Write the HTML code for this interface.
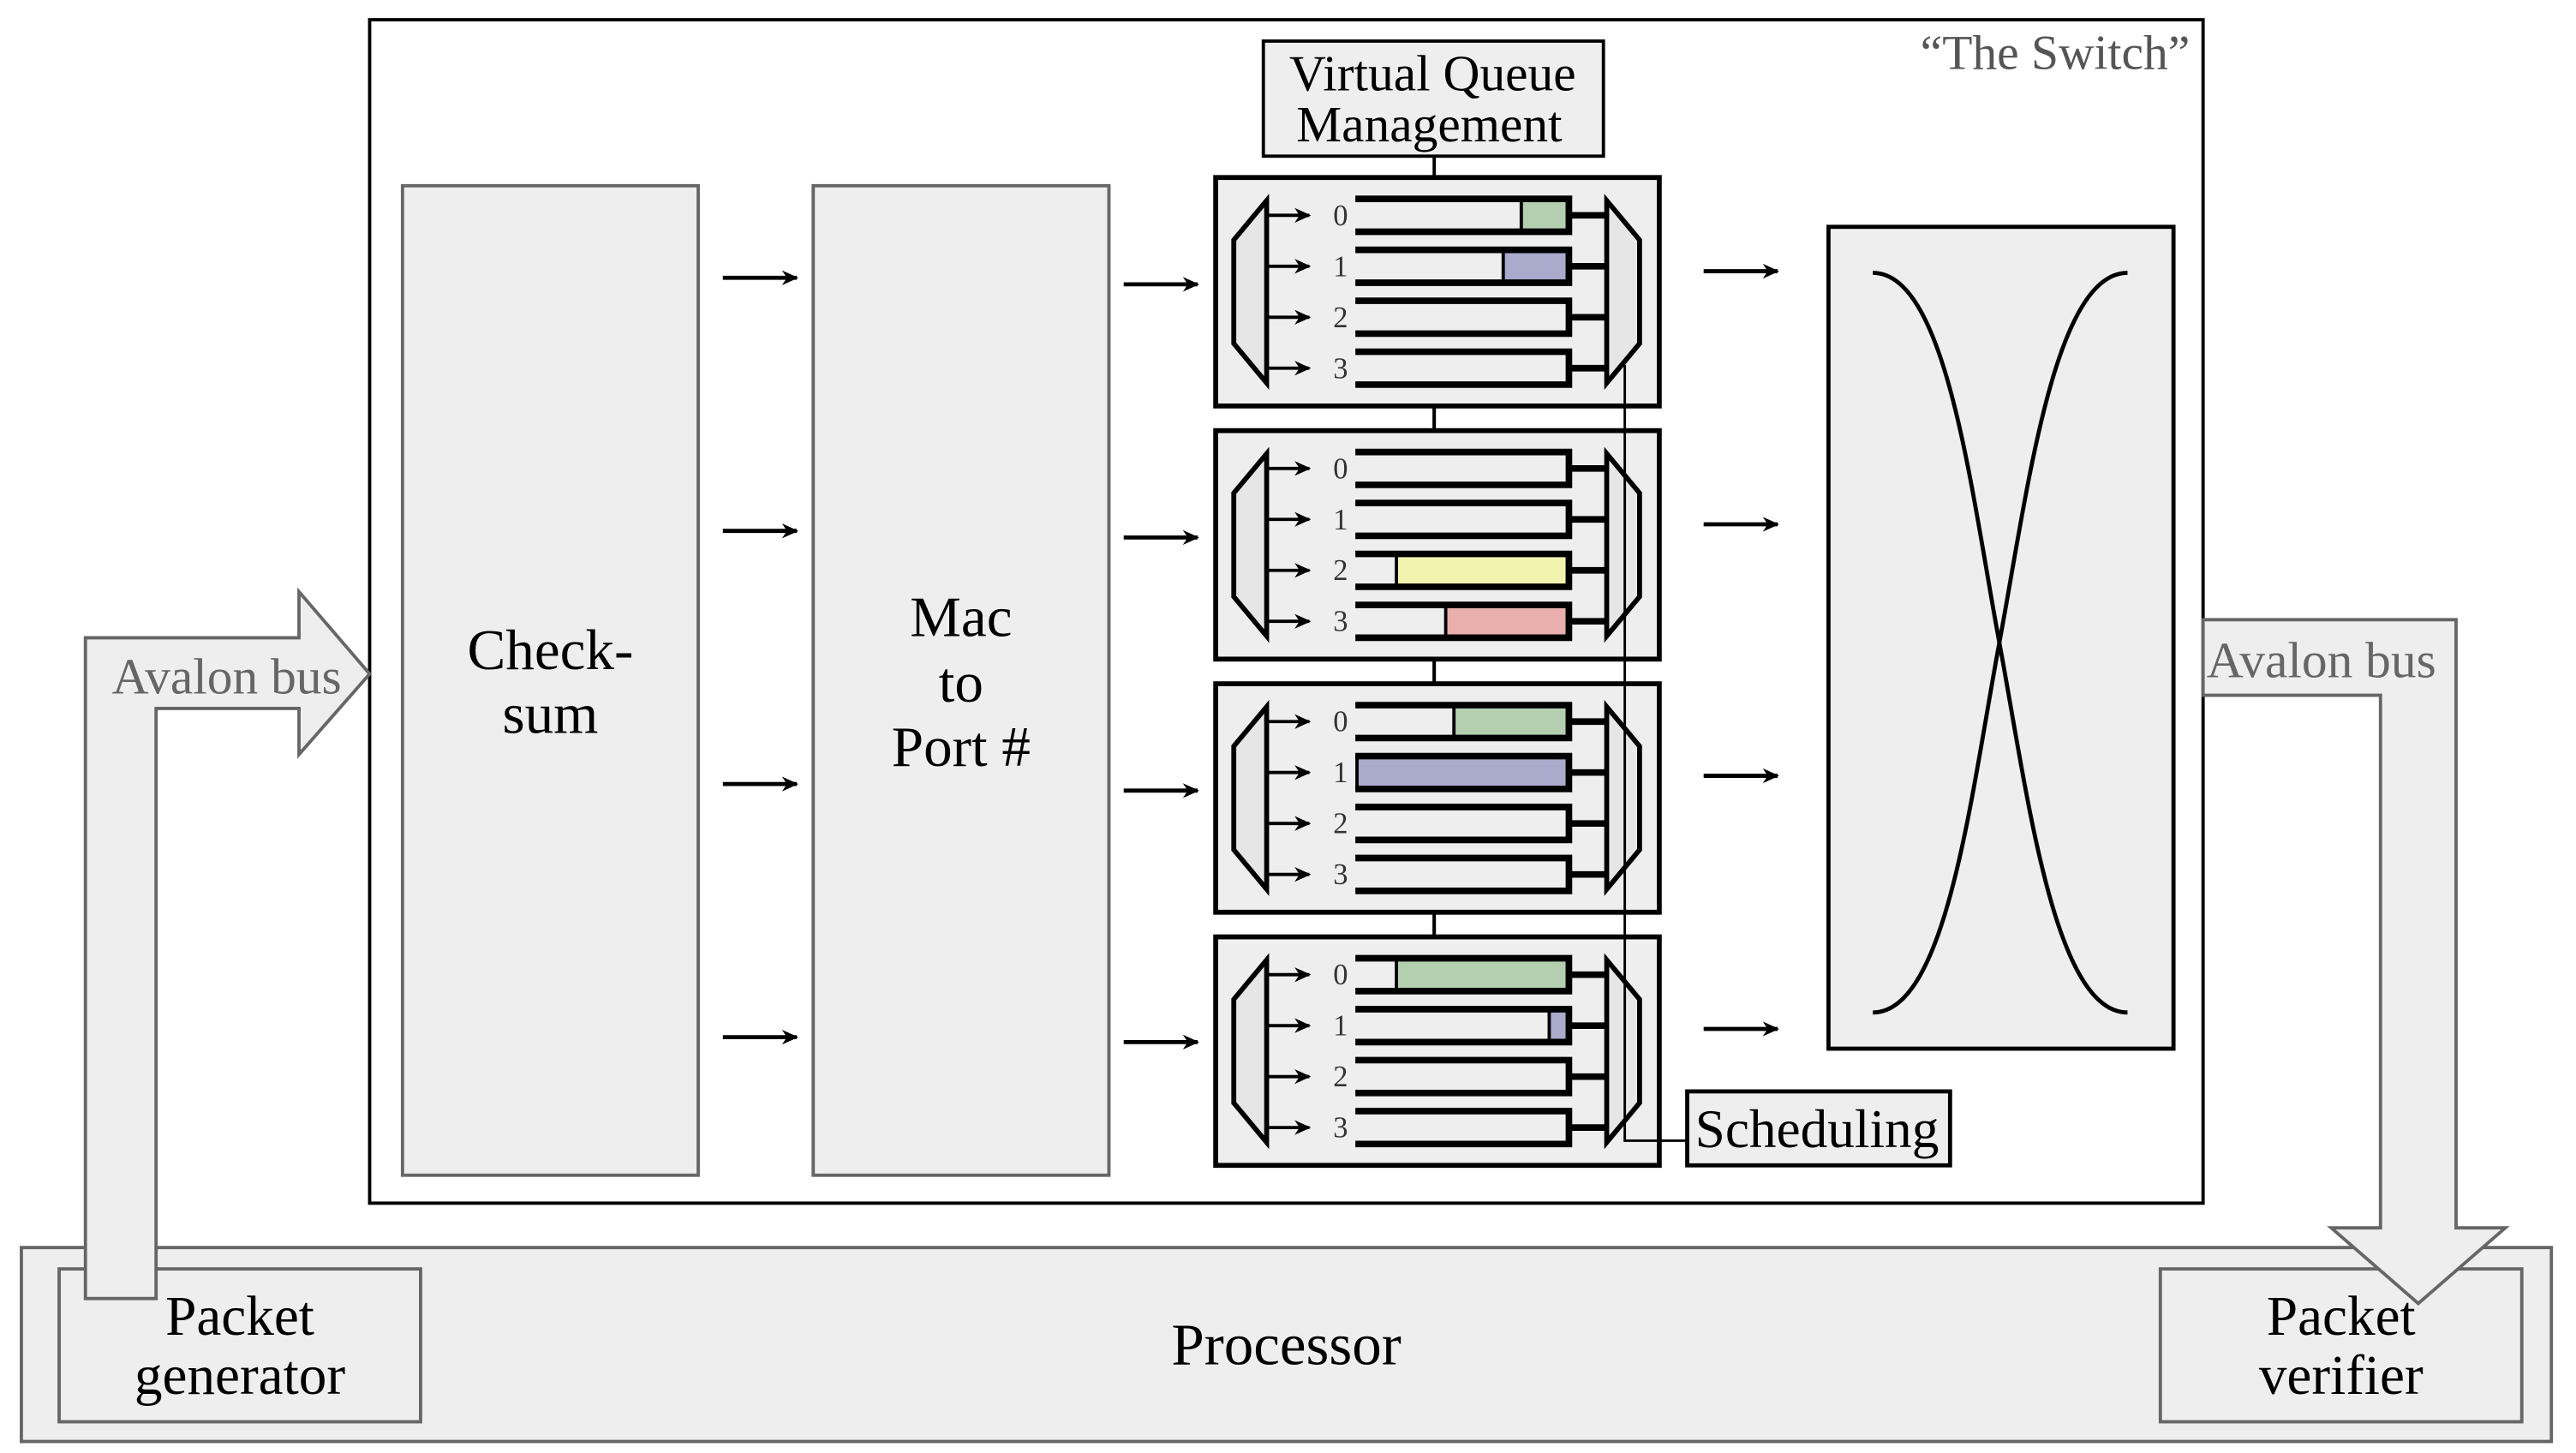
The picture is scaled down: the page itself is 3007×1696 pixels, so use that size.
<!DOCTYPE html>
<html><head><meta charset="utf-8"><style>
html,body{margin:0;padding:0;background:#fff;}
svg{display:block;}
text{font-family:"Liberation Serif",serif;}
</style></head><body>
<svg width="3007" height="1696" viewBox="0 0 1568 884" preserveAspectRatio="none" xmlns="http://www.w3.org/2000/svg">
<defs>
<marker id="ah" viewBox="0 0 10 10" refX="9" refY="5" markerWidth="12" markerHeight="10" markerUnits="userSpaceOnUse" orient="auto">
<path d="M0,0.5 L10,5 L0,9.5 L3,5 z" fill="#000"/></marker>
<marker id="ah2" viewBox="0 0 10 10" refX="9" refY="5" markerWidth="14" markerHeight="10" markerUnits="userSpaceOnUse" orient="auto">
<path d="M0,0.5 L10,5 L0,9.5 L3,5 z" fill="#000"/></marker>
</defs>

<!-- Processor -->
<rect x="13" y="759" width="1540" height="118" fill="#eeeeee" stroke="#666" stroke-width="2"/>
<text x="783" y="830" font-size="36" text-anchor="middle">Processor</text>
<rect x="36" y="772" width="220" height="93" fill="#eeeeee" stroke="#666" stroke-width="2"/>
<text x="146" y="812" font-size="34" text-anchor="middle">Packet</text>
<text x="146" y="848" font-size="34" text-anchor="middle">generator</text>
<rect x="1315" y="772" width="220" height="93" fill="#eeeeee" stroke="#666" stroke-width="2"/>
<text x="1425" y="812" font-size="34" text-anchor="middle">Packet</text>
<text x="1425" y="848" font-size="34" text-anchor="middle">verifier</text>

<!-- Switch -->
<rect x="225" y="12" width="1116" height="720" fill="#fff" stroke="#000" stroke-width="2"/>
<text x="1333" y="42" font-size="30" text-anchor="end" fill="#555">“The Switch”</text>

<!-- Avalon arrows -->
<path d="M52,388 L182,388 L182,360 L225,410 L182,459 L182,431 L95,431 L95,790 L52,790 Z" fill="#eeeeee" stroke="#666" stroke-width="2"/>
<text x="138" y="422" font-size="31" text-anchor="middle" fill="#666">Avalon bus</text>
<path d="M1341,377 L1495,377 L1495,747 L1525,747 L1472,793 L1419,747 L1449,747 L1449,423 L1341,423 Z" fill="#eeeeee" stroke="#666" stroke-width="2"/>
<text x="1413" y="412" font-size="31" text-anchor="middle" fill="#666">Avalon bus</text>

<!-- Checksum / Mac -->
<rect x="245" y="113" width="180" height="602" fill="#eeeeee" stroke="#666" stroke-width="2"/>
<text x="335" y="407" font-size="35" text-anchor="middle">Check-</text>
<text x="335" y="446" font-size="35" text-anchor="middle">sum</text>
<rect x="495" y="113" width="180" height="602" fill="#eeeeee" stroke="#666" stroke-width="2"/>
<text x="585" y="387" font-size="35" text-anchor="middle">Mac</text>
<text x="585" y="427" font-size="35" text-anchor="middle">to</text>
<text x="585" y="466" font-size="35" text-anchor="middle">Port #</text>

<g stroke="#000" stroke-width="2.5" marker-end="url(#ah2)">
<line x1="440" y1="169" x2="485" y2="169"/><line x1="440" y1="323" x2="485" y2="323"/>
<line x1="440" y1="477" x2="485" y2="477"/><line x1="440" y1="631" x2="485" y2="631"/>
<line x1="684" y1="173" x2="729" y2="173"/><line x1="684" y1="327" x2="729" y2="327"/>
<line x1="684" y1="481" x2="729" y2="481"/><line x1="684" y1="634" x2="729" y2="634"/>
<line x1="1037" y1="165" x2="1082" y2="165"/><line x1="1037" y1="319" x2="1082" y2="319"/>
<line x1="1037" y1="472" x2="1082" y2="472"/><line x1="1037" y1="626" x2="1082" y2="626"/>
</g>

<!-- VQM -->
<rect x="769" y="25" width="207" height="70" fill="#eeeeee" stroke="#000" stroke-width="2"/>
<text x="872" y="55" font-size="31" text-anchor="middle">Virtual Queue</text>
<text x="870" y="86" font-size="31" text-anchor="middle">Management</text>
<line x1="873" y1="95" x2="873" y2="570" stroke="#000" stroke-width="2"/>

<!-- Blocks -->
<g>
<rect x="740" y="108" width="270" height="139" fill="#eeeeee" stroke="#000" stroke-width="3"/>
<path d="M771,122 L771,233 L751,209 L751,146 Z" fill="#e6e6e6" stroke="#000" stroke-width="3"/>
<path d="M978,122 L998,146 L998,209 L978,233 Z" fill="#e6e6e6" stroke="#000" stroke-width="3"/>
</g>
<g>
<rect x="740" y="262" width="270" height="139" fill="#eeeeee" stroke="#000" stroke-width="3"/>
<path d="M771,276 L771,387 L751,363 L751,300 Z" fill="#e6e6e6" stroke="#000" stroke-width="3"/>
<path d="M978,276 L998,300 L998,363 L978,387 Z" fill="#e6e6e6" stroke="#000" stroke-width="3"/>
</g>
<g>
<rect x="740" y="416" width="270" height="139" fill="#eeeeee" stroke="#000" stroke-width="3"/>
<path d="M771,430 L771,541 L751,517 L751,454 Z" fill="#e6e6e6" stroke="#000" stroke-width="3"/>
<path d="M978,430 L998,454 L998,517 L978,541 Z" fill="#e6e6e6" stroke="#000" stroke-width="3"/>
</g>
<g>
<rect x="740" y="570" width="270" height="139" fill="#eeeeee" stroke="#000" stroke-width="3"/>
<path d="M771,584 L771,695 L751,671 L751,608 Z" fill="#e6e6e6" stroke="#000" stroke-width="3"/>
<path d="M978,584 L998,608 L998,671 L978,695 Z" fill="#e6e6e6" stroke="#000" stroke-width="3"/>
</g>
<line x1="873" y1="247" x2="873" y2="262" stroke="#000" stroke-width="2"/>
<line x1="873" y1="401" x2="873" y2="416" stroke="#000" stroke-width="2"/>
<line x1="873" y1="555" x2="873" y2="570" stroke="#000" stroke-width="2"/>

<g stroke="#000" stroke-width="2" marker-end="url(#ah)">
<line x1="772" y1="131" x2="797" y2="131"/><line x1="772" y1="162" x2="797" y2="162"/><line x1="772" y1="193" x2="797" y2="193"/><line x1="772" y1="224" x2="797" y2="224"/>
<line x1="772" y1="285" x2="797" y2="285"/><line x1="772" y1="316" x2="797" y2="316"/><line x1="772" y1="347" x2="797" y2="347"/><line x1="772" y1="378" x2="797" y2="378"/>
<line x1="772" y1="439" x2="797" y2="439"/><line x1="772" y1="470" x2="797" y2="470"/><line x1="772" y1="501" x2="797" y2="501"/><line x1="772" y1="532" x2="797" y2="532"/>
<line x1="772" y1="593" x2="797" y2="593"/><line x1="772" y1="624" x2="797" y2="624"/><line x1="772" y1="655" x2="797" y2="655"/><line x1="772" y1="686" x2="797" y2="686"/>
</g>
<g font-size="18" fill="#333" text-anchor="middle">
<text x="816" y="137">0</text><text x="816" y="168">1</text><text x="816" y="199">2</text><text x="816" y="230">3</text>
<text x="816" y="291">0</text><text x="816" y="322">1</text><text x="816" y="353">2</text><text x="816" y="384">3</text>
<text x="816" y="445">0</text><text x="816" y="476">1</text><text x="816" y="507">2</text><text x="816" y="538">3</text>
<text x="816" y="599">0</text><text x="816" y="630">1</text><text x="816" y="661">2</text><text x="816" y="692">3</text>
</g>

<g stroke="#000" stroke-width="2">
<rect x="926" y="121" width="28" height="20" fill="#b3cfb0"/>
<rect x="915" y="152" width="39" height="20" fill="#aaaacc"/>
<rect x="850" y="337" width="104" height="20" fill="#f3f3b0"/>
<rect x="880" y="368" width="74" height="20" fill="#e8afad"/>
<rect x="885" y="429" width="69" height="20" fill="#b3cfb0"/>
<rect x="826" y="460" width="128" height="20" fill="#aaaacc"/>
<rect x="850" y="583" width="104" height="20" fill="#b3cfb0"/>
<rect x="943" y="614" width="11" height="20" fill="#aaaacc"/>
</g>

<g fill="none" stroke="#000" stroke-width="4">
<path d="M825,121 H955 V141 H825 M955,131 H978"/>
<path d="M825,152 H955 V172 H825 M955,162 H978"/>
<path d="M825,183 H955 V203 H825 M955,193 H978"/>
<path d="M825,214 H955 V234 H825 M955,224 H978"/>
<path d="M825,275 H955 V295 H825 M955,285 H978"/>
<path d="M825,306 H955 V326 H825 M955,316 H978"/>
<path d="M825,337 H955 V357 H825 M955,347 H978"/>
<path d="M825,368 H955 V388 H825 M955,378 H978"/>
<path d="M825,429 H955 V449 H825 M955,439 H978"/>
<path d="M825,460 H955 V480 H825 M955,470 H978"/>
<path d="M825,491 H955 V511 H825 M955,501 H978"/>
<path d="M825,522 H955 V542 H825 M955,532 H978"/>
<path d="M825,583 H955 V603 H825 M955,593 H978"/>
<path d="M825,614 H955 V634 H825 M955,624 H978"/>
<path d="M825,645 H955 V665 H825 M955,655 H978"/>
<path d="M825,676 H955 V696 H825 M955,686 H978"/>
</g>

<path d="M989,222 V694 H1027" fill="none" stroke="#000" stroke-width="1.5"/>
<rect x="1027" y="664" width="160" height="45" fill="#eeeeee" stroke="#000" stroke-width="2.5"/>
<text x="1106" y="698" font-size="33" text-anchor="middle">Scheduling</text>

<rect x="1113" y="138" width="210" height="500" fill="#eeeeee" stroke="#000" stroke-width="2.5"/>
<path d="M1140,166 C1185,166 1200,300 1217,391 C1234,482 1250,616 1295,616" fill="none" stroke="#000" stroke-width="2.5"/>
<path d="M1295,166 C1250,166 1234,300 1217,391 C1200,482 1185,616 1140,616" fill="none" stroke="#000" stroke-width="2.5"/>
</svg>
</body></html>
